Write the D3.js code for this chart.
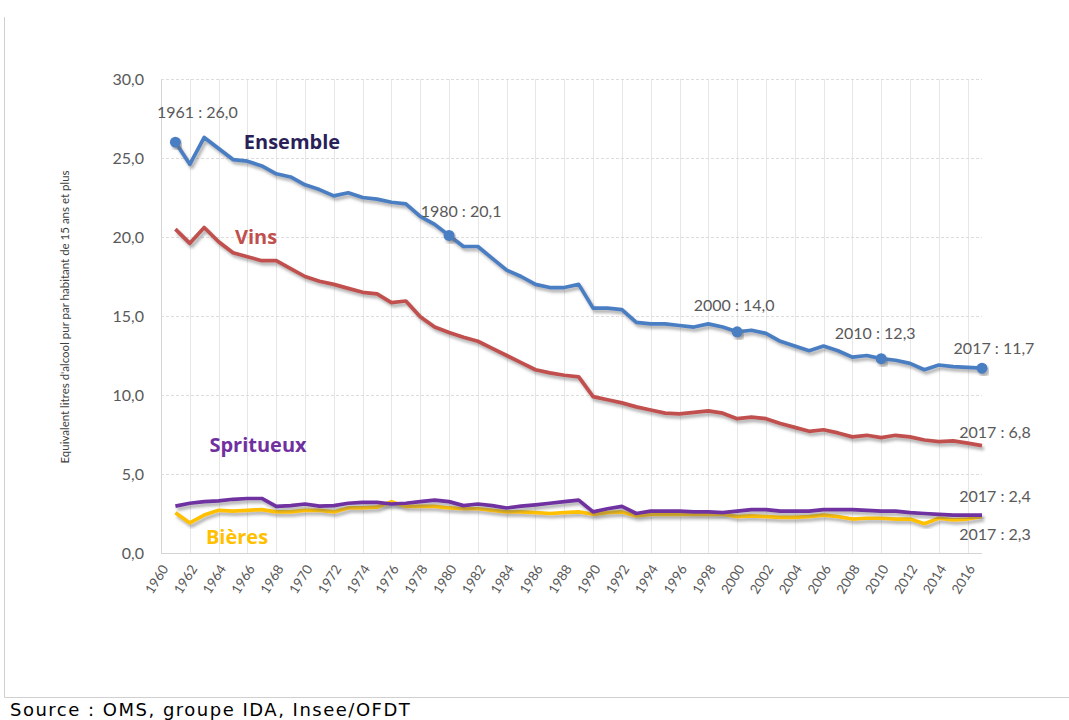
<!DOCTYPE html>
<html>
<head>
<meta charset="utf-8">
<script src="https://cdn.jsdelivr.net/npm/d3@7"></script>
<style>
  body { margin: 0; background: #fff; }
  svg { display: block; }
</style>
</head>
<body>
<div id="chart"></div>
<script>
const years = d3.range(1961, 2018);
const ensemble = [26.0, 24.6, 26.3, 25.6, 24.9, 24.8, 24.5, 24.0, 23.8, 23.3,
  23.0, 22.6, 22.8, 22.5, 22.4, 22.2, 22.1, 21.3, 20.8, 20.1,
  19.4, 19.4, 18.65, 17.9, 17.5, 17.0, 16.8, 16.8, 17.0, 15.5,
  15.5, 15.4, 14.6, 14.5, 14.5, 14.4, 14.3, 14.5, 14.3, 14.0,
  14.1, 13.9, 13.4, 13.1, 12.8, 13.1, 12.8, 12.4, 12.5, 12.3,
  12.2, 12.0, 11.6, 11.9, 11.8, 11.75, 11.7];
const vins = [20.5, 19.6, 20.6, 19.7, 19.0, 18.75, 18.5, 18.5, 18.0, 17.5,
  17.2, 17.0, 16.75, 16.5, 16.4, 15.85, 15.95, 14.95, 14.3, 13.95,
  13.65, 13.4, 12.95, 12.5, 12.05, 11.6, 11.4, 11.25, 11.15, 9.9,
  9.7, 9.5, 9.25, 9.05, 8.85, 8.8, 8.9, 9.0, 8.85, 8.5,
  8.6, 8.5, 8.2, 7.95, 7.7, 7.8, 7.6, 7.35, 7.45, 7.3,
  7.45, 7.35, 7.15, 7.05, 7.1, 6.95, 6.8];
const spiritueux = [2.97, 3.15, 3.25, 3.3, 3.4, 3.45, 3.45, 2.95, 3.0, 3.1,
  2.97, 3.0, 3.15, 3.2, 3.2, 3.1, 3.15, 3.25, 3.35, 3.25,
  3.0, 3.1, 3.0, 2.85, 2.97, 3.05, 3.15, 3.25, 3.35, 2.6,
  2.8, 2.95, 2.5, 2.65, 2.65, 2.65, 2.6, 2.6, 2.55, 2.65,
  2.75, 2.75, 2.65, 2.65, 2.65, 2.75, 2.75, 2.75, 2.7, 2.65,
  2.65, 2.55, 2.5, 2.45, 2.4, 2.4, 2.4];
const bieres = [2.55, 1.9, 2.4, 2.7, 2.65, 2.7, 2.75, 2.6, 2.6, 2.7,
  2.7, 2.6, 2.85, 2.85, 2.9, 3.25, 2.95, 2.95, 2.95, 2.85,
  2.8, 2.8, 2.7, 2.6, 2.6, 2.55, 2.5, 2.55, 2.6, 2.45,
  2.55, 2.6, 2.35, 2.45, 2.45, 2.45, 2.45, 2.45, 2.45, 2.3,
  2.35, 2.3, 2.25, 2.25, 2.3, 2.4, 2.3, 2.15, 2.2, 2.2,
  2.15, 2.15, 1.85, 2.2, 2.1, 2.15, 2.3];

const xTickYears = d3.range(1960, 2017, 2);
const yTicks = [0, 5, 10, 15, 20, 25, 30];

// highlighted points on the Ensemble line
const markedYears = [1961, 1980, 2000, 2010, 2017];

// annotation texts: year/value they belong to + offset from the point
const annotations = [
  { year: 1961, value: 26.0, text: '1961 : 26,0', dx: 22, dy: -24 },
  { year: 1980, value: 20.1, text: '1980 : 20,1', dx: 12, dy: -18 },
  { year: 2000, value: 14.0, text: '2000 : 14,0', dx: -3, dy: -21 },
  { year: 2010, value: 12.3, text: '2010 : 12,3', dx: -6, dy: -20 },
  { year: 2017, value: 11.7, text: '2017 : 11,7', dx: 12, dy: -14 },
  { year: 2017, value: 6.8, text: '2017 : 6,8', dx: 13, dy: -8 },
  { year: 2017, value: 2.4, text: '2017 : 2,4', dx: 13, dy: -13 },
  { year: 2017, value: 2.3, text: '2017 : 2,3', dx: 13, dy: 23 }
];

const series = [
  { name: 'Ensemble', values: ensemble, color: '#4a7ec3', label: '#2b1f5a', lx: 292, ly: 142 },
  { name: 'Vins', values: vins, color: '#c0504d', label: '#c0504d', lx: 256, ly: 237 },
  { name: 'Bières', values: bieres, color: '#ffc000', label: '#ffc000', lx: 237, ly: 537 },
  { name: 'Spritueux', values: spiritueux, color: '#7030a0', label: '#7030a0', lx: 258, ly: 445 }
];

const width = 1069;
const height = 720;
const margin = { top: 79, right: 87, bottom: 167, left: 161 };

const svg = d3.select('#chart')
  .append('svg')
  .attr('width', width)
  .attr('height', height);

const defs = svg.append('defs');
defs.append('filter')
  .attr('id', 'shadow')
  .attr('x', '-5%').attr('y', '-20%')
  .attr('width', '110%').attr('height', '140%')
  .append('feDropShadow')
  .attr('dx', 2)
  .attr('dy', 3)
  .attr('stdDeviation', 1.6)
  .attr('flood-color', '#6e6e6e')
  .attr('flood-opacity', 0.55);

// outer frame (left and bottom edges are visible)
svg.append('line')
  .attr('x1', 4.5).attr('x2', 4.5)
  .attr('y1', 17).attr('y2', 697.5)
  .style('stroke', '#d0d0d0');
svg.append('line')
  .attr('x1', 4.5).attr('x2', width)
  .attr('y1', 697.5).attr('y2', 697.5)
  .style('stroke', '#d0d0d0');

const x = d3.scaleLinear()
  .domain([1960, 2017])
  .range([margin.left, width - margin.right]);
const y = d3.scaleLinear()
  .domain([0, 30])
  .range([height - margin.bottom, margin.top]);

const g = svg.append('g');

// vertical grid, every two years
g.append('g')
  .selectAll('line')
  .data(xTickYears)
  .enter()
  .append('line')
  .attr('x1', d => Math.round(x(d)) + 0.5)
  .attr('x2', d => Math.round(x(d)) + 0.5)
  .attr('y1', y(30))
  .attr('y2', y(0))
  .style('stroke', d => d === 1960 ? '#d4d4d4' : '#e6e6e6')
  .style('stroke-width', 1);

// horizontal grid
g.append('g')
  .selectAll('line')
  .data(yTicks)
  .enter()
  .append('line')
  .attr('x1', x(1960))
  .attr('x2', x(2017))
  .attr('y1', d => Math.round(y(d)) + 0.5)
  .attr('y2', d => Math.round(y(d)) + 0.5)
  .style('stroke', d => d === 0 ? '#d4d4d4' : '#dcdcdc')
  .style('stroke-dasharray', d => d === 0 ? null : '3,2')
  .style('stroke-width', 1);

// y axis labels
const fmt = d3.format('.1f');
g.append('g')
  .selectAll('text')
  .data(yTicks)
  .enter()
  .append('text')
  .attr('x', x(1960) - 17)
  .attr('y', d => y(d))
  .attr('dy', '0.35em')
  .attr('text-anchor', 'end')
  .style('font-family', 'Lato, "Open Sans", sans-serif')
  .style('font-size', '16px')
  .style('fill', '#595959')
  .text(d => fmt(d).replace('.', ','));

// x axis labels, rotated
g.append('g')
  .selectAll('text')
  .data(xTickYears)
  .enter()
  .append('text')
  .attr('transform', d => `translate(${x(d) + 4},${y(0) + 13}) rotate(-58)`)
  .attr('dy', '0.35em')
  .attr('text-anchor', 'end')
  .style('font-family', 'Lato, "Open Sans", sans-serif')
  .style('font-size', '13.5px')
  .style('fill', '#595959')
  .text(d => d);

// y axis title
svg.append('text')
  .attr('transform', `translate(69,${(y(30) + y(0)) / 2 + 1}) rotate(-90)`)
  .attr('text-anchor', 'middle')
  .style('font-family', 'Lato, "Open Sans", sans-serif')
  .style('font-size', '11.5px')
  .style('fill', '#404040')
  .text('Equivalent litres d\'alcool pur par habitant de 15 ans et plus');

// series lines
const line = d3.line()
  .x((d, i) => x(years[i]))
  .y(d => y(d));

g.append('g')
  .selectAll('path')
  .data(series)
  .enter()
  .append('path')
  .attr('d', d => line(d.values))
  .style('fill', 'none')
  .style('stroke', d => d.color)
  .style('stroke-width', 3.7)
  .style('stroke-linejoin', 'round')
  .attr('filter', 'url(#shadow)');

// markers on Ensemble
g.append('g')
  .selectAll('circle')
  .data(markedYears)
  .enter()
  .append('circle')
  .attr('cx', d => x(d))
  .attr('cy', d => y(ensemble[years.indexOf(d)]))
  .attr('r', 5.5)
  .style('fill', '#4a7ec3')
  .attr('filter', 'url(#shadow)');

// annotations
g.append('g')
  .selectAll('text')
  .data(annotations)
  .enter()
  .append('text')
  .attr('x', d => x(d.year) + d.dx)
  .attr('y', d => y(d.value) + d.dy)
  .attr('text-anchor', 'middle')
  .style('font-family', 'Lato, "Open Sans", sans-serif')
  .style('font-size', '16px')
  .style('fill', '#595959')
  .text(d => d.text);

// series names
g.append('g')
  .selectAll('text')
  .data(series)
  .enter()
  .append('text')
  .attr('x', d => d.lx)
  .attr('y', d => d.ly)
  .attr('dy', '0.35em')
  .attr('text-anchor', 'middle')
  .style('font-family', '"Open Sans", Lato, sans-serif')
  .style('font-size', '20px')
  .style('font-weight', 'bold')
  .style('fill', d => d.label)
  .text(d => d.name);

svg.append('text')
  .attr('x', 10)
  .attr('y', 716)
  .style('font-family', '"DejaVu Sans", Verdana, sans-serif')
  .style('font-size', '18px')
  .style('letter-spacing', '1.5px')
  .style('fill', '#000')
  .text('Source : OMS, groupe IDA, Insee/OFDT');
</script>
</body>
</html>
